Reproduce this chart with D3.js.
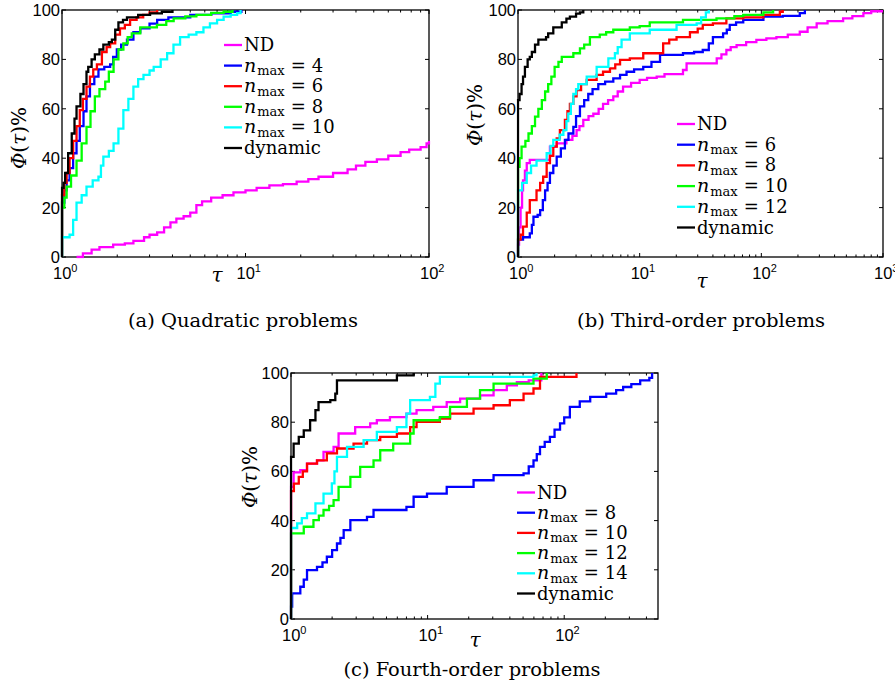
<!DOCTYPE html>
<html><head><meta charset="utf-8">
<script src="https://cdn.jsdelivr.net/npm/d3@7"></script>
<style>body{margin:0;background:#fff} svg{display:block}</style>
</head><body>
<script>
// ---------- DATA ----------
const seriesColors = ["#ff00ff", "#0000ff", "#ff0000", "#00ff00", "#00ffff", "#000000"];
const yTicks = [0, 20, 40, 60, 80, 100];

const legendA = ["ND", "4", "6", "8", "10", "dynamic"];
const legendB = ["ND", "6", "8", "10", "12", "dynamic"];
const legendC = ["ND", "8", "10", "12", "14", "dynamic"];

const captionA = "(a)  Quadratic problems";
const captionB = "(b)  Third-order problems";
const captionC = "(c)  Fourth-order problems";

const xExpA = [0, 1, 2];
const xExpB = [0, 1, 2, 3];
const xExpC = [0, 1, 2];

// Panel (a): Quadratic problems  [tau, percent]
const quadND = [[1.2,0],[1.3,1.5],[1.45,3],[1.6,4],[1.9,5],[2.2,5.5],[2.45,6.5],[2.8,8],[3.0,9],[3.3,10],[3.6,12],[3.9,14],[4.2,15.5],[4.6,16.5],[5.0,18],[5.4,21],[5.8,22.5],[6.5,24],[7.5,25],[8.6,26.2],[10,27],[11.5,28],[13.5,29],[16,29.5],[19,30.5],[22,31.5],[25,32.5],[30,34],[36,35.5],[40,37],[45,38.5],[52,39.5],[60,41],[70,42.5],[78,43.5],[90,44.5],[97,46],[100,47]];
const quadN4 = [[1,0],[1,22],[1.03,27],[1.06,31],[1.1,36],[1.15,42],[1.2,47],[1.25,53],[1.31,59],[1.36,65],[1.42,70],[1.5,73],[1.58,76],[1.7,77],[1.83,78],[1.9,81],[1.99,84],[2.1,86],[2.26,88],[2.45,91],[2.67,92.6],[3.0,94.5],[3.3,96],[3.8,97],[5,98],[6.5,98.6],[8.3,99.3],[9.5,100]];
const quadN6 = [[1,0],[1,25],[1.03,30],[1.06,34],[1.1,40],[1.15,47],[1.2,53],[1.25,59.5],[1.3,64],[1.36,69],[1.42,73],[1.48,76],[1.55,78],[1.65,83],[1.75,85],[1.83,86.5],[1.95,90],[2.07,92.6],[2.2,94],[2.35,96],[2.55,97],[2.77,98],[3.0,99],[3.3,100]];
const quadN8 = [[1,0],[1,20],[1.03,24],[1.06,28.5],[1.12,33],[1.2,39],[1.28,46],[1.36,52.7],[1.43,59],[1.51,65],[1.6,68],[1.72,71],[1.8,75],[1.91,80],[2.03,84],[2.16,86.5],[2.28,89],[2.4,90.5],[2.67,93],[3.29,94],[3.7,95.5],[4.06,96.6],[4.7,97.4],[5.4,98],[6.5,98.8],[7.6,99.3],[8.5,100]];
const quadN10 = [[1,0],[1,8],[1.1,9],[1.15,15],[1.2,22],[1.28,25],[1.36,28.5],[1.47,31],[1.58,32.5],[1.63,37],[1.68,40.6],[1.8,43],[1.91,46],[2.03,52],[2.16,59.5],[2.3,64],[2.45,69],[2.6,72],[2.78,73.7],[3.0,75.5],[3.16,77],[3.45,80],[3.74,82.5],[4.05,86],[4.4,89],[4.9,90],[5.4,91],[5.9,93],[6.4,94.6],[7.0,96],[7.6,97.3],[8.3,98],[9.0,98.7],[9.4,100]];
const quadDyn = [[1,0],[1,28],[1.02,30],[1.04,34],[1.08,42],[1.13,50],[1.17,56],[1.2,61],[1.26,66],[1.31,70],[1.36,75],[1.39,77],[1.45,80],[1.51,82],[1.6,84],[1.68,86],[1.8,87],[1.87,88],[1.95,92],[2.03,95],[2.15,96],[2.26,97],[2.6,98],[3.02,98.6],[3.5,99.3],[4.0,100]];

// Panel (b): Third-order problems
const thirdND = [[1,0],[1,5],[1.02,12],[1.05,20],[1.08,27],[1.10,31],[1.14,35],[1.18,38],[1.25,39.3],[1.72,39.3],[1.83,44.7],[2.08,46],[2.5,47.4],[2.8,49],[3.03,51.4],[3.2,53],[3.44,55.5],[3.8,57],[4.16,58],[4.6,60],[5.0,62],[5.5,63.5],[6.07,65],[6.6,67],[7.3,69],[8.5,70.5],[10,71.7],[11.5,72.5],[13.8,73],[16,74],[22.7,75.7],[24.3,78.4],[38,78.4],[43,80.4],[47,82],[51.6,83.8],[56,85],[62.6,85.8],[75,87],[91,87.9],[110,88.5],[133,89],[165,90],[207,91.2],[240,93],[285,94.6],[350,95.5],[470,96.6],[560,97.5],[690,98.7],[800,99.5],[1000,99.5]];
const thirdN6 = [[1,0],[1,7],[1.1,8],[1.25,9.6],[1.3,13],[1.34,16.3],[1.45,17],[1.52,19],[1.6,23],[1.67,27],[1.75,30],[1.83,34],[1.95,37],[2.08,40.6],[2.25,44],[2.43,47.4],[2.6,50],[2.85,52.7],[3.0,57],[3.23,61],[3.5,63.5],[3.78,66],[4.1,68],[4.57,70],[5.2,71],[6.07,72.3],[6.9,73.7],[7.8,75],[9,76],[10.7,77],[12.5,79],[14.7,81.8],[22.7,82.5],[28,83],[33,83.8],[37,86.5],[40,89],[48.5,90.5],[52,92],[55,94],[62,95],[71,96],[104,97.3],[150,97.6],[207,98.7],[228,100]];
const thirdN8 = [[1,0],[1,7],[1.05,9],[1.10,12.3],[1.18,18],[1.25,23],[1.42,27],[1.52,30],[1.61,32.5],[1.72,38],[1.83,41],[1.95,44.7],[2.08,48],[2.21,51.4],[2.43,55.5],[2.55,59],[2.67,62],[2.85,65],[3.03,67.6],[3.3,70],[3.67,71.7],[4.43,73.7],[5.0,75],[5.7,76.4],[6.3,78],[6.9,79.8],[8.3,80.4],[10.7,82.5],[14.7,82.5],[15.6,86.5],[17.5,88],[20.1,89],[25.9,91],[30,92.5],[33,94],[40,94.6],[51.6,96.6],[71,97],[104,98],[142,99.3],[150,100]];
const thirdN10 = [[1,0],[1,36.5],[1.03,40],[1.07,44.7],[1.15,47],[1.22,50],[1.3,53],[1.38,56.8],[1.47,60],[1.57,63.5],[1.67,67],[1.77,70],[1.88,73],[2.0,77],[2.15,79],[2.29,81],[2.85,82.5],[3.23,84.5],[3.5,86],[3.9,89],[4.7,90],[5.3,91],[6.07,92],[8.3,93],[10,93.5],[12.1,95],[22.7,96],[42.8,96.6],[60,97.5],[71,98],[104,99],[125,100]];
const thirdN12 = [[1,0],[1,27],[1.08,30],[1.18,34],[1.28,37],[1.42,39],[1.72,42],[1.85,45],[1.95,47.4],[2.2,49.5],[2.36,51.4],[2.5,55],[2.59,58],[2.72,62],[2.85,66],[3.0,68],[3.13,70],[3.67,73],[4.43,77],[5.53,80.4],[6.26,82.5],[6.6,85],[7.1,88],[8.3,90.5],[12.1,92],[20.1,94],[29.4,94.6],[32,97],[35,99],[37,100]];
const thirdDyn = [[1,0],[1,63.5],[1.03,66],[1.07,70],[1.1,73],[1.14,77],[1.2,80],[1.25,81],[1.3,83],[1.38,86],[1.47,88],[1.7,89],[1.77,90.5],[1.95,93],[2.29,95],[2.5,96.5],[2.67,97.3],[3.0,98.5],[3.23,99],[3.44,100]];

// Panel (c): Fourth-order problems
const fourthND = [[1,0],[1,53.7],[1.045,59.6],[1.17,60.5],[1.31,63.2],[1.55,64.5],[1.73,67.9],[2.05,70],[2.23,75.4],[2.95,78],[3.8,79.5],[4.25,80.8],[5.3,82.1],[7.0,83.5],[8.3,84.9],[11,86.2],[13.8,88.2],[17.3,89.6],[24.2,90.9],[30.4,93],[38,95],[45,96.3],[55,97],[68,100]];
const fourthN8 = [[1,0],[1,5],[1.02,10.4],[1.17,13.1],[1.24,16],[1.31,19.9],[1.55,21.2],[1.7,23],[1.83,25.3],[2.0,28],[2.17,30.7],[2.3,33],[2.43,36.1],[2.72,40.2],[3.6,41.5],[4.02,44.3],[7.0,45.6],[7.9,49.7],[9.9,51],[13.8,53.7],[21.7,56.4],[30.4,58.5],[50.4,59.2],[55,62],[59.6,64.5],[63,67],[66.5,70],[72,72],[78.6,74],[85,77],[93.2,79.5],[100,82],[110,86.2],[130,88.5],[155,90.3],[203,91.6],[240,93],[270,94.3],[310,95.5],[360,97],[420,98],[440,100]];
const fourthN10 = [[1,0],[1,52],[1.05,55],[1.14,57.8],[1.22,60],[1.31,63.2],[1.55,64.5],[1.83,67.3],[2.17,69.3],[2.87,71.3],[3.6,72.7],[4.5,74],[5.96,75.4],[7.45,78],[8.3,80.1],[12.3,81.5],[14.6,83.5],[21.7,85.5],[30.4,86.9],[40,89],[50.4,91.6],[59.6,93.7],[66.5,98.4],[123,100]];
const fourthN12 = [[1,0],[1,34.8],[1.24,37.5],[1.46,40.2],[1.6,42],[1.73,44.3],[1.9,46],[2.05,48.3],[2.23,53.7],[2.72,57.8],[3.21,61.8],[4.02,64.5],[4.5,68.6],[5.6,71.3],[7.45,75.4],[7.9,80.8],[12.3,82.1],[14.6,86.2],[19.4,89.6],[24.2,93],[30.4,95.7],[59.6,97.7],[74.5,100]];
const fourthN14 = [[1,0],[1,37],[1.11,38.9],[1.2,41],[1.31,42.9],[1.51,47],[1.73,51],[1.99,55.1],[2.08,60],[2.17,65.9],[2.57,70],[3.4,72.7],[4.25,76.1],[5.96,78],[7.0,83.5],[7.45,89],[10.4,90.3],[11.4,95.7],[12.3,98.4],[59.6,99],[62.7,100]];
const fourthDyn = [[1,0],[1,65.9],[1.045,71.3],[1.14,74],[1.24,76.7],[1.38,80.8],[1.51,84.9],[1.59,88.2],[1.94,89],[2.11,91.6],[2.17,97],[5.6,97],[5.96,99],[7.9,100]];

// ---------- LAYOUT ----------
const W = 895, H = 683;
const svg = d3.select("body").append("svg").attr("width", W).attr("height", H);
const SANS = "'Liberation Sans', Arial, sans-serif";
const SERIF = "'DejaVu Serif', serif";

const panels = [
  { key: "a", x0: 62, x1: 429, y0: 10, y1: 257, xmax: 100, exps: xExpA,
    series: [quadND, quadN4, quadN6, quadN8, quadN10, quadDyn], legend: legendA,
    leg: { x: 224, y: 45, dy: 20.6 }, caption: captionA, capX: 243, capY: 327, capW: 230,
    tau: { x: 217, y: 282 }, ylab: { x: 19, y: 138 } },
  { key: "b", x0: 518, x1: 883, y0: 10, y1: 257, xmax: 1000, exps: xExpB,
    series: [thirdND, thirdN6, thirdN8, thirdN10, thirdN12, thirdDyn], legend: legendB,
    leg: { x: 677, y: 124, dy: 20.7 }, caption: captionB, capX: 701, capY: 327, capW: 248,
    tau: { x: 702, y: 288 }, ylab: { x: 475, y: 115 } },
  { key: "c", x0: 291, x1: 658, y0: 373, y1: 619, xmax: 486, exps: xExpC,
    series: [fourthND, fourthN8, fourthN10, fourthN12, fourthN14, fourthDyn], legend: legendC,
    leg: { x: 517, y: 492.5, dy: 20.2 }, caption: captionC, capX: 472, capY: 676, capW: 257,
    tau: { x: 475, y: 647 }, ylab: { x: 250, y: 477 } }
];

function drawPanel(p) {
  const x = d3.scaleLog().domain([1, p.xmax]).range([p.x0, p.x1]);
  const y = d3.scaleLinear().domain([0, 100]).range([p.y1, p.y0]);
  const g = svg.append("g");

  g.append("rect").attr("x", p.x0).attr("y", p.y0).attr("width", p.x1 - p.x0).attr("height", p.y1 - p.y0)
    .attr("fill", "#fff").attr("stroke", "#000").attr("stroke-width", 1.3);

  const minor = [];
  for (let e = 0; e < 4; e++) for (let m = 2; m <= 9; m++) { const v = m * Math.pow(10, e); if (v < p.xmax) minor.push(v); }
  const major = p.exps.map(e => Math.pow(10, e));
  const tg = g.append("g").attr("stroke", "#000").attr("stroke-width", 1);
  minor.forEach(v => {
    tg.append("line").attr("x1", x(v)).attr("x2", x(v)).attr("y1", p.y1).attr("y2", p.y1 - 2.5);
    tg.append("line").attr("x1", x(v)).attr("x2", x(v)).attr("y1", p.y0).attr("y2", p.y0 + 2.5);
  });
  major.forEach(v => {
    tg.append("line").attr("x1", x(v)).attr("x2", x(v)).attr("y1", p.y1).attr("y2", p.y1 - 4);
    tg.append("line").attr("x1", x(v)).attr("x2", x(v)).attr("y1", p.y0).attr("y2", p.y0 + 4);
  });
  yTicks.forEach(v => {
    tg.append("line").attr("x1", p.x0).attr("x2", p.x0 + 4).attr("y1", y(v)).attr("y2", y(v));
    tg.append("line").attr("x1", p.x1).attr("x2", p.x1 - 4).attr("y1", y(v)).attr("y2", y(v));
  });

  yTicks.forEach(v => {
    g.append("text").attr("x", p.x0 - 2).attr("y", y(v)).attr("dy", "0.36em")
      .attr("text-anchor", "end").attr("font-family", SANS).attr("font-size", 16.5).text(v);
  });
  p.exps.forEach(e => {
    const t = g.append("text").attr("x", x(Math.pow(10, e)) - 9).attr("y", p.y1 + 22)
      .attr("font-family", SANS).attr("font-size", 16.5);
    t.append("tspan").text("10");
    t.append("tspan").attr("font-size", 11).attr("dy", -7).text(e);
  });

  const cid = "clip-" + p.key;
  svg.append("clipPath").attr("id", cid).append("rect")
    .attr("x", p.x0 - 1.5).attr("y", p.y0 - 1.5).attr("width", p.x1 - p.x0 + 3).attr("height", p.y1 - p.y0 + 3);
  const line = d3.line().x(d => x(d[0])).y(d => y(d[1])).curve(d3.curveStepAfter);
  const lg = g.append("g").attr("clip-path", `url(#${cid})`);
  p.series.forEach((s, i) => {
    lg.append("path").attr("d", line(s)).attr("fill", "none")
      .attr("stroke", seriesColors[i]).attr("stroke-width", 2.3).attr("stroke-linejoin", "miter");
  });

  p.legend.forEach((lab, i) => {
    const ly = p.leg.y + i * p.leg.dy;
    g.append("line").attr("x1", p.leg.x).attr("x2", p.leg.x + 18).attr("y1", ly).attr("y2", ly)
      .attr("stroke", seriesColors[i]).attr("stroke-width", 2.3);
    const t = g.append("text").attr("x", p.leg.x + 20).attr("y", ly + 6)
      .attr("font-family", SERIF).attr("font-size", 18).attr("fill", "#000");
    if (lab === "ND" || lab === "dynamic") {
      t.text(lab);
    } else {
      t.append("tspan").attr("font-style", "italic").attr("font-size", 19).text("n");
      t.append("tspan").attr("font-size", 13).attr("dy", 3.5).attr("dx", 1).text("max");
      t.append("tspan").attr("dy", -3.5).attr("dx", 6).text("=");
      t.append("tspan").attr("dx", 6).text(lab);
    }
  });

  g.append("text").attr("x", p.tau.x).attr("y", p.tau.y).attr("text-anchor", "middle")
    .attr("font-family", SERIF).attr("font-style", "italic").attr("font-size", 20).text("τ");
  const yl = g.append("text").attr("transform", `translate(${p.ylab.x},${p.ylab.y}) rotate(-90)`)
    .attr("text-anchor", "middle").attr("dy", "0.35em")
    .attr("font-family", SERIF).attr("font-size", 20);
  yl.append("tspan").attr("font-style", "italic").text("Φ");
  yl.append("tspan").text("(");
  yl.append("tspan").attr("font-style", "italic").text("τ");
  yl.append("tspan").text(")%");

  svg.append("text").attr("x", p.capX).attr("y", p.capY).attr("text-anchor", "middle")
    .attr("font-family", SERIF).attr("font-size", 18)
    .attr("textLength", p.capW).attr("lengthAdjust", "spacingAndGlyphs").text(p.caption);
}

panels.forEach(drawPanel);
</script>
</body></html>
